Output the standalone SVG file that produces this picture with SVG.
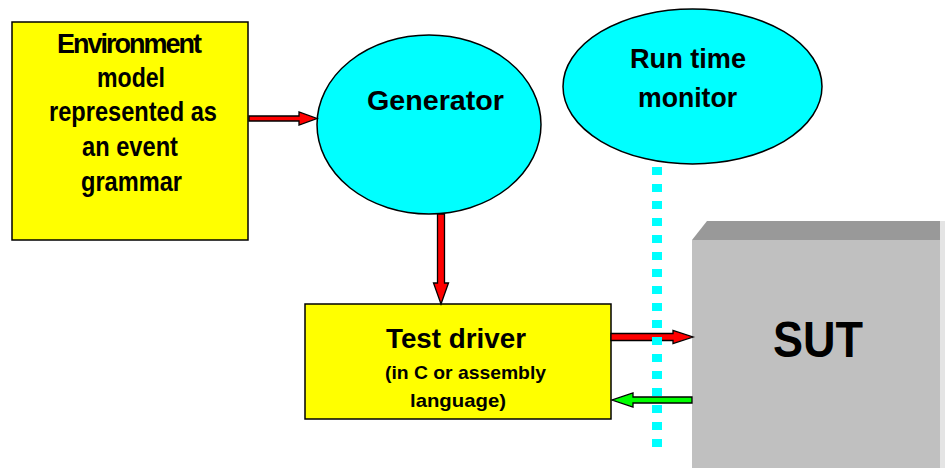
<svg xmlns="http://www.w3.org/2000/svg" width="945" height="468" viewBox="0 0 945 468">
<style>
.t{font-family:"Liberation Sans",Arial,sans-serif;font-weight:bold;fill:#000}
.box{fill:#ffff00;stroke:#000;stroke-width:1.5}
.ell{fill:#00ffff;stroke:#000;stroke-width:1.5}
.red{fill:#ff0000;stroke:#000;stroke-width:1.3;stroke-linejoin:miter}
.grn{fill:#00ff00;stroke:#000;stroke-width:1.3;stroke-linejoin:miter}
</style>
<rect width="945" height="468" fill="#fff"/>
<g id="sut">
<polygon points="692,240 707,221 945,221 940,240" fill="#999999"/>
<rect x="940" y="221" width="5" height="247" fill="#e4e4e4"/>
<rect x="692" y="240" width="248" height="228" fill="#c0c0c0"/>
<text class="t" x="773" y="357" font-size="50" textLength="90" lengthAdjust="spacingAndGlyphs">SUT</text>
</g>
<g id="env">
<rect class="box" x="12" y="22" width="236" height="218"/>
<text class="t" font-size="27" lengthAdjust="spacingAndGlyphs">
<tspan x="57" y="53" textLength="145">Environment</tspan>
</text>
<text class="t" x="97" y="87" font-size="27" textLength="68" lengthAdjust="spacingAndGlyphs">model</text>
<text class="t" x="49" y="121" font-size="27" textLength="168" lengthAdjust="spacingAndGlyphs">represented as</text>
<text class="t" x="82" y="156" font-size="27" textLength="96" lengthAdjust="spacingAndGlyphs">an event</text>
<text class="t" x="81" y="191" font-size="27" textLength="101" lengthAdjust="spacingAndGlyphs">grammar</text>
</g>
<g id="generator">
<ellipse class="ell" cx="429" cy="124.5" rx="112" ry="89.5"/>
<text class="t" x="367" y="110" font-size="28" textLength="137" lengthAdjust="spacingAndGlyphs">Generator</text>
</g>
<g id="monitor">
<ellipse class="ell" cx="692.5" cy="86.5" rx="129.5" ry="77.5"/>
<text class="t" x="630" y="68" font-size="28" textLength="116" lengthAdjust="spacingAndGlyphs">Run time</text>
<text class="t" x="638" y="107" font-size="28" textLength="99" lengthAdjust="spacingAndGlyphs">monitor</text>
</g>
<g id="driver">
<rect class="box" x="305" y="304" width="306" height="115"/>
<text class="t" x="386" y="348" font-size="27" textLength="140" lengthAdjust="spacingAndGlyphs">Test driver</text>
<text class="t" x="385" y="379" font-size="19" textLength="161" lengthAdjust="spacingAndGlyphs">(in C or assembly</text>
<text class="t" x="410" y="407" font-size="19" textLength="96" lengthAdjust="spacingAndGlyphs">language)</text>
</g>
<g id="connectors">
<polygon class="red" points="249,116 299,116 299,112 317,118.5 299,125 299,121 249,121"/>
<polygon class="red" points="437.5,214 444.5,214 444.5,283 448.5,283 441,304 433.5,283 437.5,283"/>
<polygon class="red" points="611,333.5 673,333.5 673,330.5 693,337 673,343.5 673,340.5 611,340.5"/>
<polygon class="grn" points="692,397 633,397 633,393 612,400 633,407 633,403 692,403"/>
<line x1="657" y1="167" x2="657" y2="448" stroke="#00ffff" stroke-width="10" stroke-dasharray="8 9"/>
</g>
</svg>
